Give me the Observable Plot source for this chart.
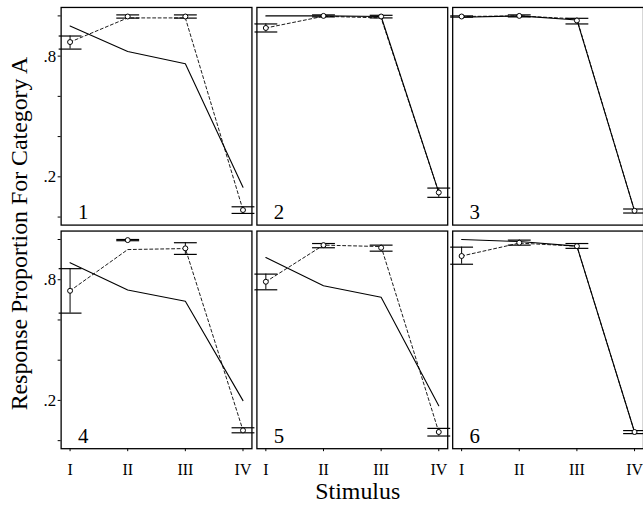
<!DOCTYPE html>
<html><head><meta charset="utf-8">
<script src="https://cdn.jsdelivr.net/npm/d3@7"></script>
<script src="https://cdn.jsdelivr.net/npm/@observablehq/plot@0.6"></script>
<style>
html,body{margin:0;padding:0;background:#fff;overflow:hidden;}
svg text{font-family:'Liberation Serif','Times New Roman',serif;}
</style></head><body><div id="chart"></div>
<script>
const stimuli = ["I", "II", "III", "IV"];
const panelNames = ["1", "2", "3", "4", "5", "6"];
const yTicks = [0, 0.2, 0.4, 0.6, 0.8, 1];
const yTickLabels = ["", ".2", "", "", ".8", ""];
const yTitle = "Response Proportion For Category A";
const xTitle = "Stimulus";

// solid line (one per panel, values at I..IV)
const solidLine = [
  [0.95, 0.823, 0.762, 0.148],
  [1.0, 1.0, 0.997, 0.123],
  [0.993, 1.0, 0.98, 0.031],
  [0.885, 0.749, 0.693, 0.199],
  [0.91, 0.77, 0.713, 0.174],
  [1.0, 0.99, 0.967, 0.043]
];
// dashed line
const dashedLine = [
  [0.87, 0.99, 0.99, 0.035],
  [0.94, 0.998, 0.99, 0.122],
  [0.997, 1.0, 0.985, 0.031],
  [0.745, 0.95, 0.955, 0.051],
  [0.79, 0.972, 0.965, 0.043],
  [0.918, 0.982, 0.967, 0.043]
];
// observed proportions (circles)
const observed = [
  [0.87, 0.997, 0.997, 0.035],
  [0.94, 1.0, 0.997, 0.122],
  [0.997, 1.0, 0.977, 0.031],
  [0.745, 0.997, 0.956, 0.051],
  [0.79, 0.972, 0.959, 0.043],
  [0.918, 0.984, 0.967, 0.043]
];
const errHigh = [
  [0.90, 1.005, 1.005, 0.051],
  [0.96, 1.005, 1.003, 0.144],
  [1.0, 1.005, 0.988, 0.04],
  [0.855, 1.0, 0.984, 0.064],
  [0.828, 0.98, 0.972, 0.061],
  [0.962, 0.997, 0.98, 0.05]
];
const errLow = [
  [0.835, 0.989, 0.989, 0.018],
  [0.92, 0.995, 0.99, 0.098],
  [0.994, 0.995, 0.96, 0.02],
  [0.634, 0.994, 0.926, 0.039],
  [0.75, 0.959, 0.942, 0.023],
  [0.877, 0.972, 0.956, 0.035]
];

const rows = [];
panelNames.forEach((name, p) => {
  stimuli.forEach((s, i) => {
    rows.push({
      panel: name, col: p % 3, row: Math.floor(p / 3), stim: s,
      solid: solidLine[p][i], dashed: dashedLine[p][i], obs: observed[p][i],
      lo: errLow[p][i], hi: errHigh[p][i]
    });
  });
});
const panelRows = panelNames.map((name, p) => ({panel: name, col: p % 3, row: Math.floor(p / 3)}));

const capSymbol = {
  draw(ctx, size) {
    const r = Math.sqrt(size / Math.PI);
    ctx.moveTo(-r, 0);
    ctx.lineTo(r, 0);
  }
};

const font = "'Liberation Serif', 'Times New Roman', serif";
const F = {fx: "col", fy: "row"};

const plot = Plot.plot({
  width: 647, height: 508,
  marginLeft: 60, marginRight: 0, marginTop: 7, marginBottom: 57,
  facet: {marginTop: 0, marginRight: 0, marginBottom: 0, marginLeft: 0},
  style: {fontFamily: font, fontSize: "16px", color: "#000", background: "#fff"},
  fx: {domain: [0, 1, 2], paddingInner: 0.0254, paddingOuter: 0, axis: null},
  fy: {domain: [0, 1], paddingInner: 0.0267, paddingOuter: 0, axis: null},
  x: {type: "point", domain: stimuli, padding: 0.136},
  y: {domain: [-0.04, 1.042]},
  marks: [
    Plot.frame({stroke: "#000", strokeWidth: 1.3}),
    Plot.axisY({ticks: yTicks, tickFormat: d => yTickLabels[yTicks.indexOf(d)], tickSize: 3, tickPadding: 2, fontSize: 17, fontFamily: font, label: null, facetAnchor: "left"}),
    Plot.axisX({tickSize: 3, tickPadding: 12, fontSize: 16, fontFamily: font, label: null, facetAnchor: "bottom"}),
    Plot.line(rows, {...F, x: "stim", y: "solid", stroke: "#000", strokeWidth: 1.1}),
    Plot.line(rows, {...F, x: "stim", y: "dashed", stroke: "#000", strokeWidth: 0.9, strokeDasharray: "3,2.5"}),
    Plot.ruleX(rows, {...F, x: "stim", y1: "lo", y2: "hi", stroke: "#000", strokeWidth: 1}),
    Plot.dot(rows, {...F, x: "stim", y: "lo", symbol: capSymbol, r: 11.5, stroke: "#000", strokeWidth: 1.2}),
    Plot.dot(rows, {...F, x: "stim", y: "hi", symbol: capSymbol, r: 11.5, stroke: "#000", strokeWidth: 1.2}),
    Plot.dot(rows, {...F, x: "stim", y: "obs", r: 2.5, fill: "#fff", stroke: "#000", strokeWidth: 1}),
    Plot.text(panelRows, {...F, text: "panel", frameAnchor: "bottom-left", dx: 17, dy: -6, fontSize: 21, fontFamily: font, textAnchor: "start", lineAnchor: "bottom"})
  ]
});

const svg = d3.select(plot);
svg.append("text")
  .attr("transform", "translate(27,235) rotate(-90)")
  .attr("text-anchor", "middle")
  .attr("font-family", font)
  .attr("font-size", 24)
  .attr("fill", "#000")
  .text(yTitle);
svg.append("text")
  .attr("x", 360).attr("y", 502)
  .attr("text-anchor", "middle")
  .attr("font-family", font)
  .attr("font-size", 24)
  .attr("fill", "#000")
  .text(xTitle);

document.getElementById("chart").appendChild(plot);
</script>
</body></html>
